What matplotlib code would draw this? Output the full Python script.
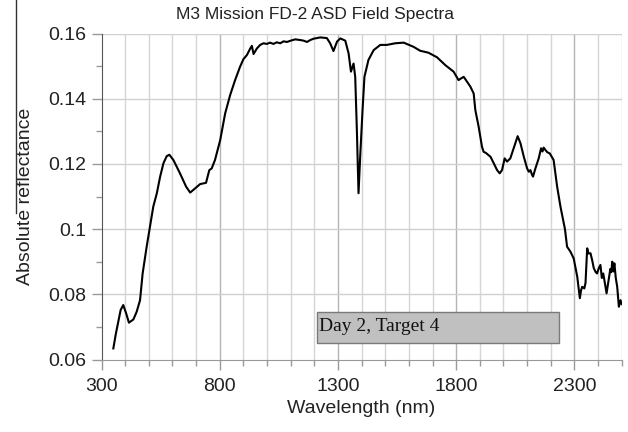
import matplotlib
matplotlib.use("Agg")
import matplotlib.pyplot as plt
from matplotlib.patches import Rectangle
from matplotlib.lines import Line2D
from matplotlib.ticker import MultipleLocator

wavelength = [350, 361, 371, 381, 392, 404, 416, 435, 449, 463, 474, 491, 505, 519, 534, 548,
              562, 576, 587, 604, 632, 658, 675, 696, 717, 742, 756, 766, 780, 802, 823, 844,
              865, 886, 900, 915, 929, 936, 943, 957, 971, 985, 999, 1013, 1027, 1041, 1056,
              1070, 1084, 1100, 1119, 1140, 1155, 1169, 1183, 1197, 1225, 1253, 1267, 1281,
              1296, 1310, 1331, 1345, 1355, 1366, 1373, 1380, 1387, 1394, 1404, 1412, 1429,
              1451, 1479, 1507, 1542, 1578, 1620, 1648, 1683, 1719, 1754, 1789, 1810, 1820,
              1832, 1846, 1860, 1874, 1881, 1895, 1909, 1916, 1925, 1937, 1945, 1952, 1973,
              1984, 1994, 2005, 2015, 2029, 2043, 2060, 2072, 2086, 2100, 2107, 2114, 2120,
              2125, 2135, 2149, 2159, 2165, 2170, 2177, 2185, 2196, 2212, 2227, 2241, 2255,
              2260, 2269, 2283, 2297, 2312, 2323, 2328, 2333, 2342, 2347, 2354, 2360, 2368,
              2375, 2382, 2390, 2396, 2403, 2410, 2416, 2422, 2430, 2436, 2445, 2452, 2456,
              2460, 2465, 2469, 2475, 2481, 2488, 2495, 2500]
reflectance = [0.0634, 0.0680, 0.0716, 0.0752, 0.0767, 0.0742, 0.0713, 0.0723, 0.0747, 0.0782,
               0.0864, 0.0946, 0.1007, 0.1069, 0.1110, 0.1161, 0.1202, 0.1224, 0.1228, 0.1212,
               0.1171, 0.1130, 0.1112, 0.1125, 0.1138, 0.1142, 0.1181, 0.1186, 0.1212, 0.1273,
               0.1355, 0.1411, 0.1457, 0.1498, 0.1521, 0.1534, 0.1554, 0.1562, 0.1537, 0.1554,
               0.1565, 0.1570, 0.1568, 0.1572, 0.1568, 0.1573, 0.1570, 0.1576, 0.1574, 0.1578,
               0.1582, 0.1580, 0.1578, 0.1574, 0.1580, 0.1584, 0.1588, 0.1586, 0.1570, 0.1546,
               0.1575, 0.1585, 0.1578, 0.1539, 0.1483, 0.1508, 0.1467, 0.1304, 0.1110, 0.1222,
               0.1365, 0.1467, 0.1519, 0.1549, 0.1565, 0.1565, 0.1570, 0.1572, 0.1559, 0.1547,
               0.1541, 0.1527, 0.1503, 0.1483, 0.1457, 0.1462, 0.1467, 0.1452, 0.1437, 0.1416,
               0.1365, 0.1314, 0.1253, 0.1237, 0.1234, 0.1227, 0.1222, 0.1212, 0.1181, 0.1171,
               0.1181, 0.1217, 0.1207, 0.1217, 0.1248, 0.1285, 0.1263, 0.1222, 0.1186, 0.1176,
               0.1181, 0.1168, 0.1161, 0.1186, 0.1217, 0.1248, 0.1238, 0.1250, 0.1243, 0.1236,
               0.1232, 0.1212, 0.1130, 0.1069, 0.1018, 0.1000, 0.0946, 0.0931, 0.0910, 0.0854,
               0.0788, 0.0812, 0.0823, 0.0818, 0.0835, 0.0941, 0.0925, 0.0926, 0.0905, 0.0880,
               0.0868, 0.0864, 0.0880, 0.0890, 0.0850, 0.0864, 0.0830, 0.0803, 0.0844, 0.0878,
               0.0868, 0.0900, 0.0870, 0.0895, 0.0850, 0.0823, 0.0762, 0.0782, 0.0770]

x_ticks = [300, 800, 1300, 1800, 2300]
y_ticks = [0.06, 0.08, 0.1, 0.12, 0.14, 0.16]
y_tick_labels = ["0.06", "0.08", "0.1", "0.12", "0.14", "0.16"]
title = "M3 Mission FD-2 ASD Field Spectra"
x_label = "Wavelength (nm)"
y_label = "Absolute reflectance"
annotation = "Day 2, Target 4"

plt.rcParams['font.family'] = ['Liberation Sans', 'DejaVu Sans']

fig = plt.figure(figsize=(6.28, 4.32), dpi=100)
ax = fig.add_axes([101.5 / 628, 1 - 359.5 / 432, (621.7 - 101.5) / 628, (359.5 - 33.5) / 432])

ax.set_xlim(300, 2500)
ax.set_ylim(0.06, 0.16)

# grid
for gx in range(400, 2501, 100):
    col = '#b4b4b4' if (gx - 300) % 500 == 0 else '#d6d6d6'
    ax.axvline(gx, color=col, lw=1.0, zorder=0)
for gy in y_ticks[1:]:
    ax.axhline(gy, color='#d0d0d0', lw=1.0, zorder=0)

ax.plot(wavelength, reflectance, color='black', lw=1.5, zorder=3)

# annotation box
ax.add_patch(Rectangle((1211, 0.0651), 2234 - 1211, 0.0746 - 0.0651,
                       facecolor='#c0c0c0', edgecolor='#7a7a7a', lw=1.0, zorder=4))
ax.text(1218, 0.0702, annotation, family=['Liberation Serif', 'DejaVu Serif'],
        fontsize=14, color='#111111', va='center', ha='left', zorder=5)

for s in ['top', 'right']:
    ax.spines[s].set_visible(False)
ax.spines['left'].set_color('#555555')
ax.spines['bottom'].set_color('#999999')

ax.set_xticks(x_ticks)
ax.xaxis.set_minor_locator(MultipleLocator(100))
ax.set_yticks(y_ticks)
ax.set_yticklabels(y_tick_labels)
ax.yaxis.set_minor_locator(MultipleLocator(0.01))
ax.tick_params(axis='both', which='major', length=7, width=1, color='#999999',
               labelsize=14, labelcolor='#222222', pad=4)
ax.tick_params(axis='both', which='minor', length=4, width=1, color='#999999')
ax.tick_params(axis='x', pad=6)

fig.text(315 / 628, 1 - 15 / 432, title, fontsize=12.5, color='#222222',
         ha='center', va='center')
ax.set_xlabel(x_label, fontsize=14, color='#222222', labelpad=4)
ax.set_ylabel(y_label, fontsize=14, color='#222222', labelpad=10)

fig.add_artist(Line2D([16 / 628, 16 / 628], [1.0, 1 - 213 / 432], color='#333333', lw=1.0))

fig.savefig('out.png', dpi=100)
